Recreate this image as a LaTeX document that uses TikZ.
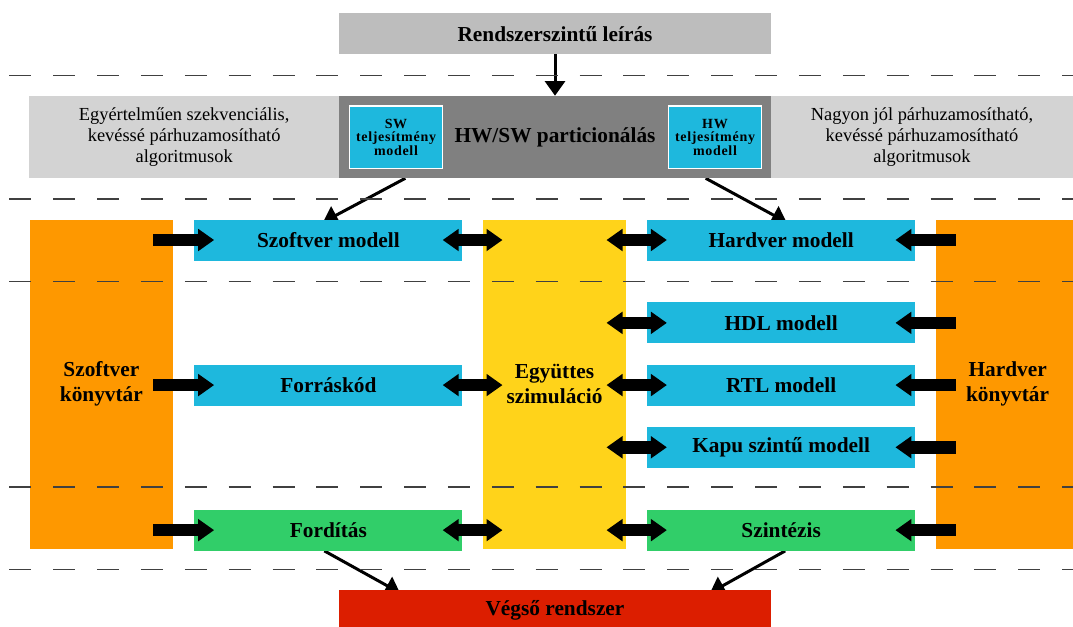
\documentclass[tikz,border=0pt]{standalone}
\usepackage{fontspec}
\setmainfont{Liberation Serif}
\usetikzlibrary{arrows.meta,positioning,backgrounds}
\definecolor{Spec}{HTML}{BDBDBD}
\definecolor{Part}{HTML}{808080}
\definecolor{Side}{HTML}{D3D3D3}
\definecolor{Model}{HTML}{1EB8DD}
\definecolor{Impl}{HTML}{31CE69}
\definecolor{Lib}{HTML}{FE9800}
\definecolor{Cosim}{HTML}{FFD31A}
\definecolor{Final}{HTML}{DC1E00}
\definecolor{Sep}{HTML}{404040}

\begin{document}
\begin{tikzpicture}[
 x=0.75pt,y=-0.75pt,
 node distance=15.5pt,
 box/.style={rectangle,inner sep=0pt,align=center,font=\fontsize{16}{18.5}\selectfont\bfseries},
 mdl/.style={box,fill=Model,minimum width=201pt,minimum height=30.75pt},
 impl/.style={box,fill=Impl,minimum width=201pt,minimum height=30.75pt},
 col/.style={box,minimum width=107.6pt,minimum height=246.9pt},
 wide/.style={box,minimum width=324pt},
 side/.style={rectangle,inner sep=0pt,fill=Side,minimum height=61.5pt,align=center,font=\fontsize{13.8}{15.5}\selectfont},
 perf/.style={rectangle,inner sep=0pt,fill=Model,draw=white,line width=0.8pt,minimum width=70pt,minimum height=47pt,align=center,font=\fontsize{10.5}{10}\selectfont\bfseries\addfontfeature{LetterSpace=5}},
 blk/.style={line width=9.5pt,-{Triangle[width=16pt,length=12pt]}},
 blkk/.style={line width=9.5pt,{Triangle[width=16pt,length=12pt]}-{Triangle[width=16pt,length=12pt]}},
 a/.style={line width=2.25pt,-{Triangle[width=15pt,length=11pt]}},
 sep/.style={draw=Sep,line width=1.1pt,dash pattern=on 16.5pt off 16.4pt}
]
\useasboundingbox (0,0) rectangle (1073,626);

% system level and partitioning
\node[wide,fill=Spec,minimum height=30.4pt] (spec) at (555,33.75) {Rendszerszintű leírás};
\node[wide,fill=Part,minimum height=61.5pt] (part) at (555,137) {HW/SW particionálás};
\node[side,minimum width=232.3pt] (seq) at (184.15,137) {Egyértelműen szekvenciális,\\kevéssé párhuzamosítható\\algoritmusok};
\node[side,minimum width=226.5pt] (par) at (922,137) {Nagyon jól párhuzamosítható,\\kevéssé párhuzamosítható\\algoritmusok};
\node[perf] (swperf) at (396,137.35) {SW\\teljesítmény\\modell};
\node[perf] (hwperf) at (715,137.35) {HW\\teljesítmény\\modell};

% libraries and co-simulation
\node[col,fill=Lib] (swlib) at (101.4,384.1) {Szoftver\\könyvtár};
\node[col,fill=Cosim] (cosim) at (554.5,384.1) {Együttes\\szimuláció};
\node[col,fill=Lib] (hwlib) at (1007.6,384.1) {Hardver\\könyvtár};

% hardware flow
\node[mdl] (hwm) at (781.15,240) {Hardver modell};
\node[mdl,below=31pt of hwm] (hdl) {HDL modell};
\node[mdl,below=of hdl] (rtl) {RTL modell};
\node[mdl,below=of rtl] (gate) {Kapu szintű modell};
\node[impl,below=31pt of gate] (synt) {Szintézis};

% software flow
\node[mdl] (swm) at (328.4,240) {Szoftver modell};
\node[mdl] (src) at (swm |- rtl) {Forráskód};
\node[impl] (comp) at (swm |- synt) {Fordítás};

\node[wide,fill=Final,minimum height=30.75pt] (final) at (555,610.5) {Végső rendszer};

% thin arrows, partly under the boxes
\draw[a] (spec) -- (part);
\begin{scope}[on background layer]
\draw[a] ([xshift=7pt]swperf.south |- part.south) -- ([shift={(-4pt,-2.2pt)}]swm.north);
\draw[a] ([xshift=-7pt]hwperf.south |- part.south) -- ([shift={(4pt,-2.2pt)}]hwm.north);
\draw[a] ([xshift=-3pt]comp.south) -- ([shift={(45.9pt,-2.3pt)}]final.north west);
\draw[a] ([xshift=3pt]synt.south) -- ([shift={(-45.9pt,-2.3pt)}]final.north east);
\end{scope}

% block arrows
\foreach \b in {swm,src,comp}{
  \draw[blk] ([xshift=-15pt]swlib.east |- \b) -- ([xshift=15pt]\b.west);
  \draw[blkk] ([xshift=-15pt]\b.east) -- ([xshift=15pt]cosim.west |- \b);
}
\foreach \b in {hwm,hdl,rtl,gate,synt}{
  \draw[blkk] ([xshift=-15pt]cosim.east |- \b) -- ([xshift=15pt]\b.west);
  \draw[blk] ([xshift=15pt]hwlib.west |- \b) -- ([xshift=-15pt]\b.east);
}

% level separators
\foreach \y in {75.7,199,281.5,487,569.5}
  \draw[sep] (9.3,\y) -- (1073,\y);
\end{tikzpicture}
\end{document}
